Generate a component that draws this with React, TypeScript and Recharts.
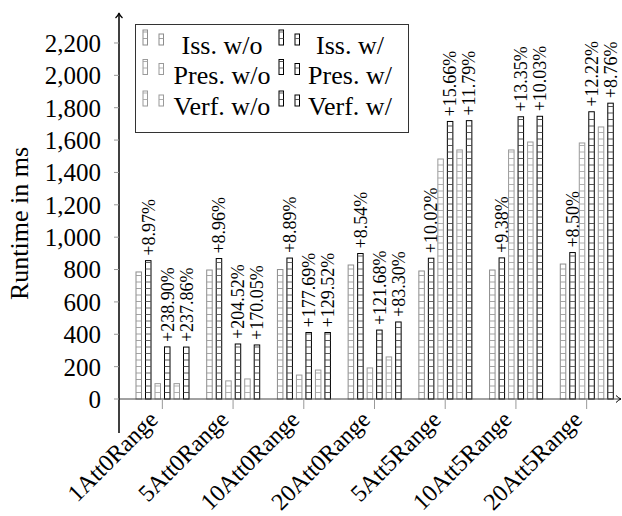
import { BarChart, Bar, XAxis, YAxis, LabelList, Legend, ReferenceLine } from "recharts"

const categories = [
  "1Att0Range",
  "5Att0Range",
  "10Att0Range",
  "20Att0Range",
  "5Att5Range",
  "10Att5Range",
  "20Att5Range",
]

// runtime in ms
const issWo = [785, 797, 800, 828, 791, 797, 834]
const issW = [855, 868, 871, 899, 870, 872, 905]
const presWo = [95, 112, 148, 192, 1483, 1539, 1582]
const presW = [322, 340, 411, 426, 1715, 1744, 1775]
const verfWo = [95, 124, 179, 260, 1539, 1588, 1681]
const verfW = [321, 334, 411, 476, 1720, 1747, 1828]

const issGain = ["+8.97%", "+8.96%", "+8.89%", "+8.54%", "+10.02%", "+9.38%", "+8.50%"]
const presGain = ["+238.90%", "+204.52%", "+177.69%", "+121.68%", "+15.66%", "+13.35%", "+12.22%"]
const verfGain = ["+237.86%", "+170.05%", "+129.52%", "+83.30%", "+11.79%", "+10.03%", "+8.76%"]

const yTicks = [0, 200, 400, 600, 800, 1000, 1200, 1400, 1600, 1800, 2000, 2200]

const data = categories.map((name, i) => ({
  name,
  issWo: issWo[i],
  issW: issW[i],
  presWo: presWo[i],
  presW: presW[i],
  verfWo: verfWo[i],
  verfW: verfW[i],
  issGain: issGain[i],
  presGain: presGain[i],
  verfGain: verfGain[i],
}))

const SERIES = [
  { key: "issWo", name: "Iss. w/o", edge: "#8c8c8c", rung: "#999" },
  { key: "issW", name: "Iss. w/", edge: "#000", rung: "#555" },
  { key: "presWo", name: "Pres. w/o", edge: "#9a9a9a", rung: "#a6a6a6" },
  { key: "presW", name: "Pres. w/", edge: "#000", rung: "#444" },
  { key: "verfWo", name: "Verf. w/o", edge: "#9a9a9a", rung: "#a6a6a6" },
  { key: "verfW", name: "Verf. w/", edge: "#000", rung: "#444" },
]

const gainKey: Record<string, string> = {
  issW: "issGain",
  presW: "presGain",
  verfW: "verfGain",
}

const FONT = "'Liberation Serif', 'Times New Roman', serif"
const W = 622
const H = 516
const PLOT_TOP = 14
const PLOT_BOTTOM = 433
const Y_MIN = -210
const Y_MAX = 2379
const ZERO_OFFSET = ((0 - Y_MIN) / (Y_MAX - Y_MIN)) * (PLOT_BOTTOM - PLOT_TOP)
const PITCH = 6.5

function LadderBar(props: any) {
  const { x, y, width, height, edge, rung } = props
  if (!height || height <= 0) return null
  const rungs = []
  for (let yy = y + height - PITCH; yy > y + 1.5; yy -= PITCH) {
    rungs.push(
      <line key={yy} x1={x} x2={x + width} y1={yy} y2={yy} stroke={rung} strokeWidth={0.9} />
    )
  }
  return (
    <g>
      <rect x={x} y={y} width={width} height={height} fill="#fff" stroke={edge} strokeWidth={1} />
      {rungs}
    </g>
  )
}

function GainLabel(props: any) {
  const { x, y, width, value } = props
  const cx = x + width / 2
  const ty = y - 5
  return (
    <text
      x={cx}
      y={ty}
      dy="0.35em"
      transform={`rotate(-90 ${cx} ${ty})`}
      textAnchor="start"
      fontFamily={FONT}
      fontSize={18}
      fill="#000"
    >
      {value}
    </text>
  )
}

function CategoryTick(props: any) {
  const { x, y, payload } = props
  const axisY = y - ZERO_OFFSET
  const tx = x - 3
  const ty = axisY + 22
  return (
    <g>
      <line x1={x} x2={x} y1={axisY} y2={axisY + 10} stroke="#999" strokeWidth={1} />
      <text
        x={tx}
        y={ty}
        transform={`rotate(-45 ${tx} ${ty})`}
        textAnchor="end"
        fontFamily={FONT}
        fontSize={24}
        fill="#000"
      >
        {payload.value}
      </text>
    </g>
  )
}

function LegendIcon({ x, bottom, edge, rung }: any) {
  return (
    <g>
      <LadderBar x={x} y={bottom - 15} width={4.5} height={15} edge={edge} rung={rung} />
      <LadderBar x={x + 16} y={bottom - 11} width={4.5} height={11} edge={edge} rung={rung} />
    </g>
  )
}

function renderLegend() {
  const rowBase = [30, 59.5, 91]
  const iconX = [8, 144]
  const textX = [87, 215]
  return (
    <svg width={274} height={109} style={{ display: "block" }}>
      <rect x={0.5} y={0.5} width={273} height={108} fill="#fff" stroke="#333" strokeWidth={1} />
      {SERIES.map((s, i) => {
        const row = Math.floor(i / 2)
        const col = i % 2
        return (
          <g key={s.key}>
            <LegendIcon x={iconX[col]} bottom={rowBase[row] - 9} edge={s.edge} rung={s.rung} />
            <text
              x={textX[col]}
              y={rowBase[row]}
              textAnchor="middle"
              fontFamily={FONT}
              fontSize={26}
              fill="#000"
            >
              {s.name}
            </text>
          </g>
        )
      })}
    </svg>
  )
}

function XAxisLine(props: any) {
  const { viewBox } = props
  const x0 = viewBox.x
  const x1 = viewBox.x + viewBox.width - 1
  const y = viewBox.y
  return (
    <g>
      <line x1={x0} x2={x1} y1={y} y2={y} stroke="#444" strokeWidth={1} />
      <path
        d={`M ${x1 - 5} ${y - 3.5} Q ${x1 - 2} ${y - 0.5} ${x1} ${y} Q ${x1 - 2} ${y + 0.5} ${x1 - 5} ${y + 3.5}`}
        fill="none"
        stroke="#000"
        strokeWidth={1}
      />
    </g>
  )
}

function YArrow(props: any) {
  const { viewBox } = props
  const x = viewBox.x
  const y = viewBox.y - 1
  return (
    <path
      d={`M ${x - 3.5} ${y + 5} Q ${x - 0.5} ${y + 2} ${x} ${y} Q ${x + 0.5} ${y + 2} ${x + 3.5} ${y + 5}`}
      fill="none"
      stroke="#000"
      strokeWidth={1.2}
    />
  )
}

function YLabel(props: any) {
  const { viewBox } = props
  const cx = viewBox.x + 28
  const cy = viewBox.y + viewBox.height / 2
  return (
    <text
      x={cx}
      y={cy}
      transform={`rotate(-90 ${cx} ${cy})`}
      textAnchor="middle"
      fontFamily={FONT}
      fontSize={26}
      fill="#000"
    >
      Runtime in ms
    </text>
  )
}

export default function App() {
  return (
    <div style={{ position: "absolute", left: 0, top: 0, width: W, height: H, background: "#fff", overflow: "hidden" }}>
      <BarChart
        width={W}
        height={H}
        data={data}
        margin={{ top: PLOT_TOP, right: 0, bottom: 0, left: 0 }}
        barSize={5.5}
        barGap={4}
      >
        <XAxis
          dataKey="name"
          height={H - PLOT_BOTTOM}
          padding={{ left: 8, right: 0 }}
          axisLine={false}
          tickLine={false}
          tickSize={0}
          tickMargin={0}
          interval={0}
          tick={<CategoryTick />}
        />
        <YAxis
          width={119}
          domain={[Y_MIN, Y_MAX]}
          ticks={yTicks}
          interval={0}
          allowDataOverflow
          tickFormatter={(v: number) => v.toLocaleString("en-US")}
          axisLine={{ stroke: "#000", strokeWidth: 1.5 }}
          tickLine={{ stroke: "#999" }}
          tickSize={5}
          tickMargin={13}
          tick={{ fontFamily: FONT, fontSize: 25, fill: "#000" }}
          label={(p: any) => <YLabel {...p} />}
        />
        {SERIES.map((s) => (
          <Bar
            key={s.key}
            dataKey={s.key}
            name={s.name}
            isAnimationActive={false}
            shape={(p: any) => <LadderBar {...p} edge={s.edge} rung={s.rung} />}
          >
            {gainKey[s.key] ? (
              <LabelList dataKey={gainKey[s.key]} content={(p: any) => <GainLabel {...p} />} />
            ) : null}
          </Bar>
        ))}
        <ReferenceLine y={0} stroke="none" label={(p: any) => <XAxisLine {...p} />} />
        <ReferenceLine y={Y_MAX} stroke="none" label={(p: any) => <YArrow {...p} />} />
        <Legend
          layout="horizontal"
          verticalAlign="middle"
          align="center"
          wrapperStyle={{ left: 135, top: 24, width: 274, height: 109 }}
          content={renderLegend}
        />
      </BarChart>
    </div>
  )
}
